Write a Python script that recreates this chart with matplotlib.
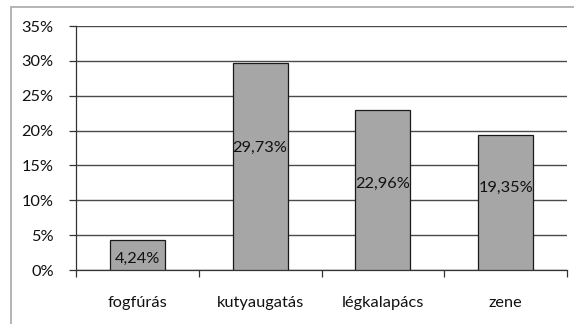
import matplotlib
matplotlib.use("Agg")
import matplotlib.pyplot as plt
from matplotlib.patches import Rectangle
from matplotlib.ticker import FixedLocator

categories = ["fogfúrás", "kutyaugatás", "légkalapács", "zene"]
values = [4.24, 29.73, 22.96, 19.35]
value_labels = ["4,24%", "29,73%", "22,96%", "19,35%"]
y_ticks = [0, 5, 10, 15, 20, 25, 30, 35]
y_tick_labels = ["0%", "5%", "10%", "15%", "20%", "25%", "30%", "35%"]

plt.rcParams["font.family"] = ["Lato", "DejaVu Sans"]

W, H = 574, 324
FS = 11.8
fig = plt.figure(figsize=(W / 100, H / 100), dpi=100)
fig.patch.set_facecolor("white")

# outer chart frame
fig.patches.append(Rectangle((10.5 / W, -0.1), 1.2, 1 - 7.5 / H + 0.1,
                             transform=fig.transFigure, fill=False,
                             edgecolor="#b4b4b4", linewidth=1.4))

ax = fig.add_axes([76 / W, 1 - 270 / H, (567 - 76) / W, (270 - 26) / H])
x = list(range(len(categories)))
ax.bar(x, values, width=0.45, color="#a6a6a6", edgecolor="#1a1a1a",
       linewidth=0.9, zorder=3)

# label heights as a fraction of each bar
label_frac = [0.37, 0.59, 0.54, 0.61]
for xi, v, lab, f in zip(x, values, value_labels, label_frac):
    ax.text(xi, v * f, lab, ha="center", va="center", fontsize=FS,
            color="#111111", zorder=4)

ax.set_xlim(-0.5, len(categories) - 0.5)
ax.set_ylim(0, 35)
ax.set_yticks(y_ticks)
ax.set_yticklabels(y_tick_labels)
ax.set_xticks(x)
ax.set_xticklabels(categories)
ax.xaxis.set_minor_locator(FixedLocator([i - 0.5 for i in range(len(categories) + 1)]))
ax.tick_params(axis="x", which="major", length=0, pad=19, labelsize=FS,
               colors="#111111")
ax.tick_params(axis="x", which="minor", length=5, width=0.9, color="#333333")
ax.tick_params(axis="y", length=5, width=0.9, pad=11, labelsize=FS,
               color="#333333", labelcolor="#111111")

ax.grid(axis="y", color="#4a4a4a", linewidth=1.0, zorder=0)
ax.set_axisbelow(True)
for s in ["top", "right"]:
    ax.spines[s].set_visible(False)
for s in ["left", "bottom"]:
    ax.spines[s].set_color("#333333")
    ax.spines[s].set_linewidth(0.9)

fig.savefig("out.png", dpi=100)
